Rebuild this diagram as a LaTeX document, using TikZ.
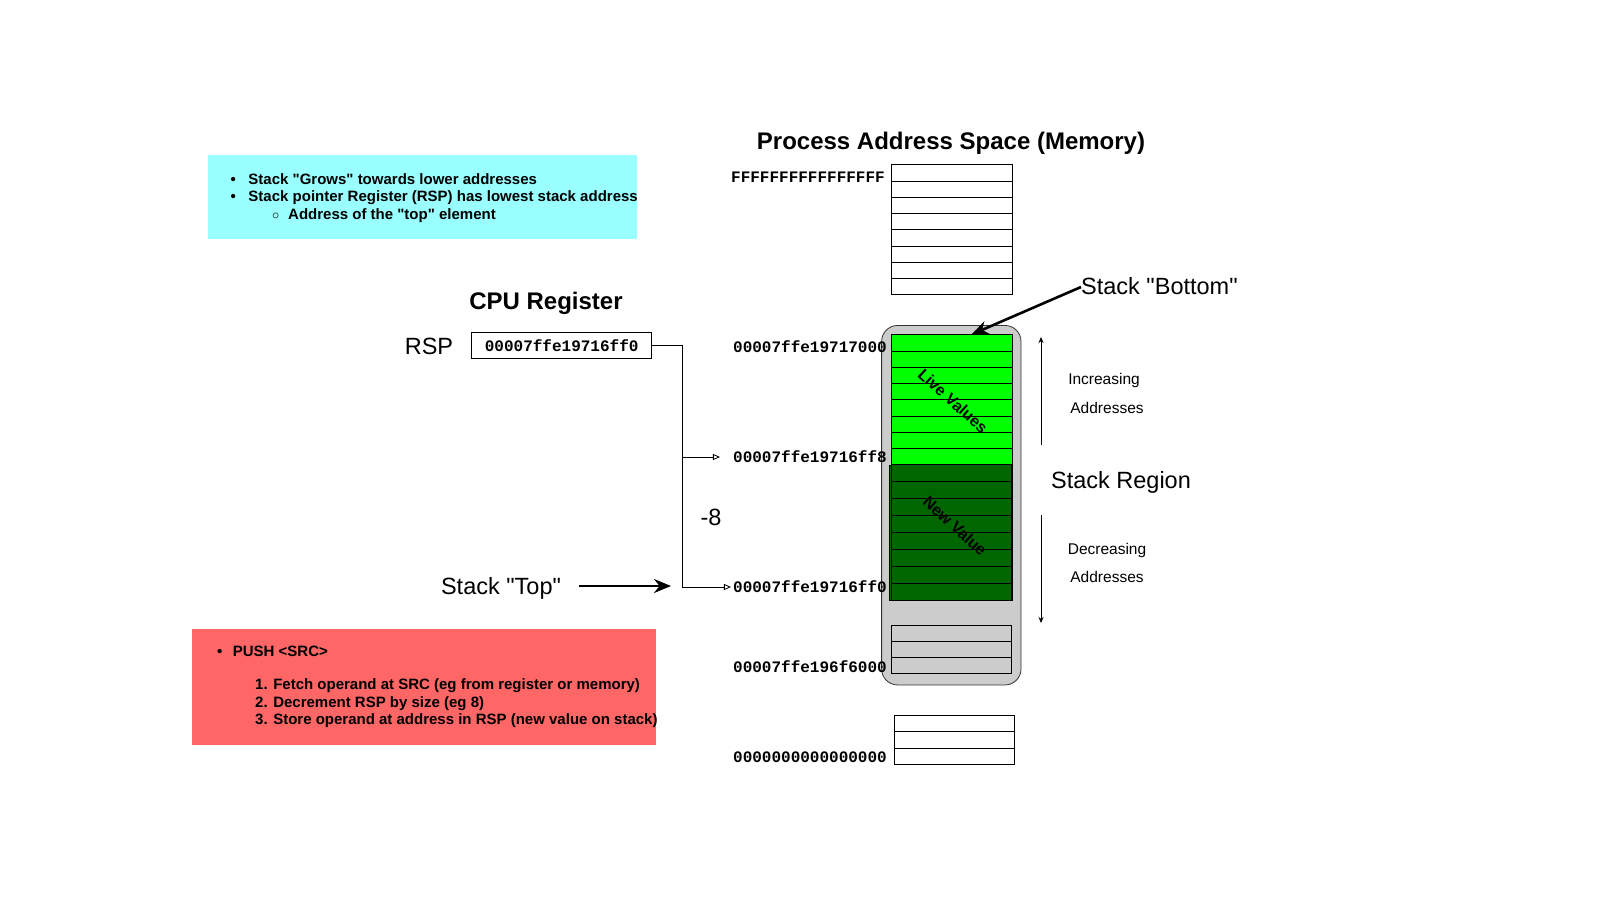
\documentclass[tikz,border=0pt]{standalone}
\usepackage{fontspec}
\newfontfamily\arialfont{Liberation Sans}
\setmonofont{Liberation Mono}
\usetikzlibrary{arrows.meta,positioning}
\definecolor{cyanbg}{HTML}{99FFFF}
\definecolor{redbg}{HTML}{FF6666}
\definecolor{livegreen}{HTML}{00FF00}
\definecolor{newgreen}{HTML}{006600}
\definecolor{stackgrey}{HTML}{CCCCCC}
\tikzset{
  cell/.style={draw, rectangle, minimum width=121pt, minimum height=16.25pt, inner sep=0pt, line width=1pt},
  addr/.style={anchor=east, inner sep=1pt, font=\ttfamily\bfseries\fontsize{16}{18}\selectfont},
  lbl/.style={inner sep=0pt, font=\arialfont\fontsize{23.5}{26}\selectfont},
  ttl/.style={inner sep=0pt, font=\arialfont\bfseries\fontsize{24}{28}\selectfont},
  sml/.style={inner sep=0pt, font=\arialfont\fontsize{15.5}{18}\selectfont},
  diag/.style={inner sep=0pt, rotate=-42, font=\arialfont\bfseries\fontsize{16}{18}\selectfont},
  note/.style={anchor=base west, align=left, inner sep=0pt, font=\arialfont\bfseries\fontsize{15}{17.6}\selectfont},
  thinarr/.style={-{Triangle[open,length=7pt,width=6pt]}, line width=0.8pt},
  bigarr/.style={-{Stealth[length=17pt,width=14pt]}, line width=2.6pt},
  sarr/.style={-{Stealth[length=6pt,width=5pt]}, line width=0.8pt},
}
\begin{document}
\begin{tikzpicture}[x=1pt,y=-1pt]
\useasboundingbox (0,0) rectangle (1600,900);

\node[fill=cyanbg, minimum width=428.4pt, minimum height=83.8pt, inner sep=0pt] (facts) at (422.5,197) {};
\node[note] (factstxt) at (230.5,219.5)
  {\makebox[17.8pt][l]{\textbullet}Stack "Grows" towards lower addresses\\
   \makebox[17.8pt][l]{\textbullet}Stack pointer Register (RSP) has lowest stack address\\
   \hspace*{41.5pt}\makebox[16pt][l]{$\circ$}Address of the "top" element};

\node[fill=redbg, minimum width=464.2pt, minimum height=116.4pt, inner sep=0pt] (push) at (423.9,686.8) {};
\node[note] (pushtxt) at (217,724.7)
  {\makebox[15.7pt][l]{\textbullet}PUSH <SRC>\\[15pt]
   \hspace*{38pt}1. Fetch operand at SRC (eg from register or memory)\\
   \hspace*{38pt}2. Decrement RSP by size (eg 8)\\
   \hspace*{38pt}3. Store operand at address in RSP (new value on stack)};

\node[ttl] (memttl) at (951,143) {Process Address Space (Memory)};
\node[ttl] (cputtl) at (546,303) {CPU Register};
\node[draw, line width=0.8pt, minimum width=180pt, minimum height=25.6pt, inner sep=0pt,
  font=\ttfamily\bfseries\fontsize{16}{18}\selectfont] (rsp) at (561.7,345.5) {00007ffe19716ff0};
\node[lbl, left=18pt of rsp, yshift=-1pt] (rsplbl) {RSP};

\node[draw=black!80, line width=0.8pt, fill=stackgrey, rounded corners=16pt,
  minimum width=139.4pt, minimum height=359.5pt, inner sep=0pt] (stackreg) at (951.3,505.2) {};

\foreach \i in {0,...,7}
  \node[cell] (hi\i) at (951.5,{173.1+16.25*\i}) {};
\foreach \i in {0,...,7}
  \node[cell, fill=livegreen] (live\i) at (951.5,{343.1+16.25*\i}) {};
\node[draw, line width=1pt, fill=newgreen, minimum width=123pt, minimum height=135pt, inner sep=0pt] (newblk) at (950.5,532.5) {};
\foreach \i in {0,...,7}
  \node[cell, fill=newgreen, minimum width=120pt, minimum height=16.9pt] (new\i) at (951.7,{473.4+16.9*\i}) {};
\foreach \i in {0,...,2}
  \node[cell, minimum width=120pt] (free\i) at (951.7,{633.2+16.3*\i}) {};
\foreach \i in {0,...,2}
  \node[cell, minimum width=120pt] (lo\i) at (954.3,{723.8+16.2*\i}) {};

\node[diag] (livetxt) at (953,401) {Live Values};
\node[diag] (newtxt) at (955,526) {New Value};

\node[addr] (aFFFF) at (886,177) {FFFFFFFFFFFFFFFF};
\node[addr] (a17000) at (888,347) {00007ffe19717000};
\node[addr] (aff8) at (888,457) {00007ffe19716ff8};
\node[addr] (aff0) at (888,587) {00007ffe19716ff0};
\node[addr] (a6000) at (888,667) {00007ffe196f6000};
\node[addr] (azero) at (888,757) {0000000000000000};

\draw[thinarr] (rsp.east) -- ++(30,0) coordinate (bend) |- ([xshift=-1pt]aff0.west);
\draw[thinarr] (bend |- aff8) -- ([xshift=-12pt]aff8.west);
\node[lbl] (minus) at (711,517) {-8};

\node[lbl] (toplbl) at (501,588) {Stack "Top"};
\coordinate (toptip) at (671,586);
\draw[bigarr] ([xshift=18pt]toplbl.east |- toptip) -- (toptip);

\node[lbl, anchor=west] (botlbl) at (1081,286) {Stack "Bottom"};
\draw[bigarr] ([yshift=-1pt]botlbl.west) -- ([xshift=20pt]live0.north);

\coordinate (incfrom) at (1041,445);
\coordinate (incto) at (1041,337);
\coordinate (decfrom) at (1041,515);
\coordinate (decto) at (1041,623);
\draw[sarr] (incfrom) -- (incto);
\draw[sarr] (decfrom) -- (decto);
\node[sml] (inc) at (1104,380) {Increasing};
\node[sml] (incaddr) at (1107,408) {Addresses};
\node[lbl] (region) at (1121,482) {Stack Region};
\node[sml] (dec) at (1107,550) {Decreasing};
\node[sml] (decaddr) at (1107,577) {Addresses};

\end{tikzpicture}
\end{document}
